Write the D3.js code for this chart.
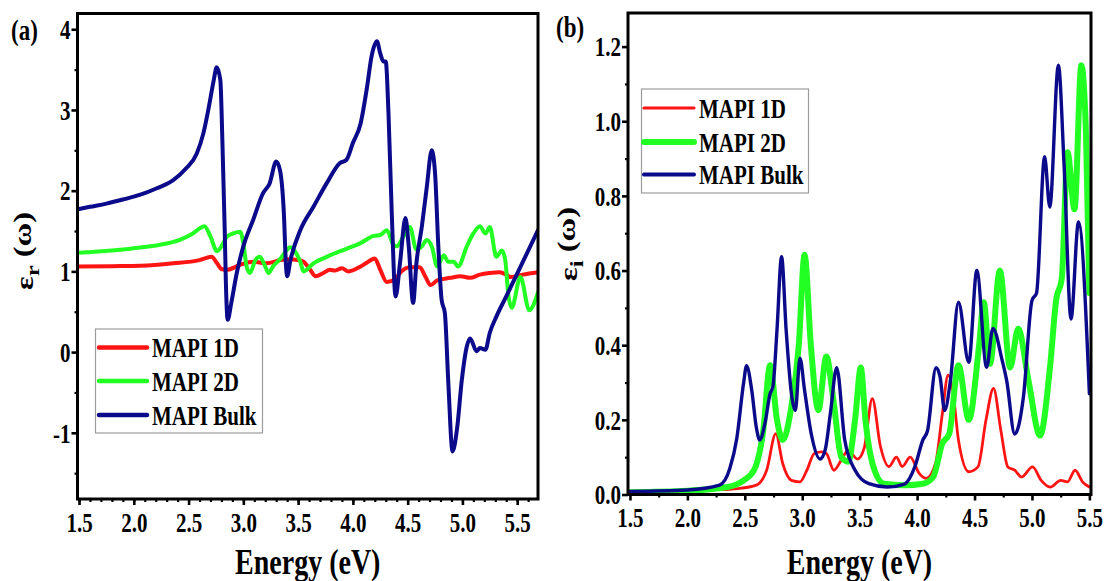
<!DOCTYPE html>
<html><head><meta charset="utf-8">
<script src="https://cdn.jsdelivr.net/npm/d3@7"></script>
<style>body{margin:0;background:#fff}svg{display:block}</style>
</head><body>
<svg id="c" width="1106" height="581"></svg>
<script>
// ---------------- DATA ----------------
const seriesNames = ["MAPI 1D", "MAPI 2D", "MAPI Bulk"];

// (a) real part  [energy eV, eps_r]
const real1D = [[1.49,1.06],[1.8,1.065],[2.06,1.07],[2.36,1.10],[2.60,1.14],[2.71,1.18],[2.76,1.10],[2.80,1.03],[2.85,1.02],[2.97,1.08],[3.09,1.12],[3.21,1.10],[3.34,1.14],[3.40,1.15],[3.50,1.14],[3.55,1.12],[3.61,1.02],[3.66,0.94],[3.73,0.98],[3.79,1.02],[3.84,1.01],[3.90,1.04],[3.96,1.00],[4.07,1.06],[4.14,1.12],[4.20,1.16],[4.25,1.02],[4.31,0.87],[4.385,0.90],[4.43,0.98],[4.52,1.05],[4.61,1.05],[4.66,0.94],[4.71,0.83],[4.77,0.89],[4.89,0.92],[4.98,0.94],[5.07,0.92],[5.16,0.96],[5.25,0.98],[5.34,0.99],[5.40,0.96],[5.44,0.93],[5.55,0.96],[5.69,0.99]];
const real2D = [[1.49,1.23],[1.8,1.26],[2.08,1.30],[2.24,1.33],[2.42,1.39],[2.54,1.47],[2.645,1.56],[2.70,1.43],[2.76,1.25],[2.80,1.31],[2.85,1.43],[2.91,1.47],[2.97,1.49],[3.00,1.35],[3.03,1.06],[3.06,0.98],[3.11,1.14],[3.15,1.18],[3.20,1.06],[3.23,0.98],[3.27,1.06],[3.34,1.16],[3.40,1.27],[3.43,1.30],[3.47,1.25],[3.52,1.12],[3.55,1.00],[3.64,1.10],[3.76,1.18],[3.94,1.28],[4.07,1.35],[4.19,1.44],[4.25,1.45],[4.31,1.51],[4.37,1.33],[4.40,1.31],[4.46,1.43],[4.52,1.55],[4.58,1.27],[4.63,1.31],[4.675,1.39],[4.72,1.31],[4.77,1.06],[4.83,1.20],[4.87,1.12],[4.92,1.12],[4.96,1.06],[5.04,1.31],[5.10,1.47],[5.16,1.56],[5.21,1.47],[5.25,1.55],[5.31,1.18],[5.36,1.26],[5.39,1.15],[5.42,0.70],[5.45,0.55],[5.53,0.93],[5.61,0.52],[5.69,0.74]];
const realBulk = [[1.49,1.77],[1.6,1.80],[1.75,1.84],[1.9,1.89],[2.06,1.95],[2.21,2.03],[2.36,2.13],[2.48,2.28],[2.575,2.46],[2.635,2.71],[2.68,3.00],[2.73,3.37],[2.757,3.53],[2.79,3.37],[2.81,2.55],[2.83,1.51],[2.84,0.89],[2.857,0.40],[2.89,0.61],[2.94,0.98],[3.0,1.31],[3.09,1.64],[3.18,1.97],[3.24,2.09],[3.30,2.36],[3.335,2.25],[3.37,1.72],[3.39,1.06],[3.40,0.94],[3.43,1.14],[3.52,1.51],[3.64,1.80],[3.76,2.09],[3.88,2.34],[3.94,2.38],[4.0,2.59],[4.07,2.83],[4.13,3.29],[4.17,3.66],[4.22,3.85],[4.25,3.70],[4.28,3.60],[4.30,3.60],[4.325,2.96],[4.355,1.72],[4.39,0.69],[4.43,1.10],[4.48,1.66],[4.51,1.31],[4.55,0.61],[4.58,1.10],[4.63,1.56],[4.675,2.05],[4.72,2.50],[4.75,2.22],[4.78,1.31],[4.81,0.65],[4.84,0.48],[4.87,-0.34],[4.91,-1.23],[4.95,-0.96],[4.995,-0.34],[5.04,0.07],[5.07,0.17],[5.13,0.01],[5.16,0.05],[5.21,0.03],[5.25,0.24],[5.31,0.44],[5.40,0.69],[5.57,1.17],[5.69,1.51]];

// (b) imaginary part  [energy eV, eps_i]
const imag1D = [[1.50,0.005],[1.9,0.008],[2.19,0.012],[2.44,0.016],[2.60,0.025],[2.69,0.065],[2.77,0.163],[2.83,0.083],[2.905,0.038],[2.98,0.034],[3.04,0.065],[3.105,0.11],[3.17,0.114],[3.21,0.11],[3.275,0.065],[3.34,0.092],[3.40,0.119],[3.48,0.095],[3.54,0.125],[3.61,0.257],[3.68,0.13],[3.755,0.075],[3.82,0.10],[3.87,0.075],[3.94,0.10],[4.02,0.056],[4.08,0.043],[4.16,0.083],[4.22,0.217],[4.27,0.32],[4.31,0.28],[4.36,0.146],[4.45,0.061],[4.53,0.074],[4.60,0.20],[4.665,0.284],[4.73,0.17],[4.79,0.074],[4.85,0.065],[4.91,0.047],[5.005,0.074],[5.08,0.038],[5.16,0.02],[5.25,0.038],[5.31,0.034],[5.375,0.065],[5.44,0.034],[5.50,0.02]];
const imag2D = [[1.50,0.006],[2.0,0.01],[2.35,0.02],[2.49,0.038],[2.58,0.065],[2.66,0.17],[2.72,0.346],[2.78,0.20],[2.83,0.146],[2.905,0.235],[2.97,0.40],[3.02,0.642],[3.075,0.40],[3.14,0.226],[3.21,0.37],[3.275,0.244],[3.34,0.10],[3.40,0.088],[3.46,0.20],[3.51,0.34],[3.55,0.20],[3.62,0.074],[3.71,0.029],[3.89,0.025],[4.05,0.029],[4.14,0.047],[4.22,0.137],[4.28,0.163],[4.36,0.346],[4.45,0.20],[4.54,0.40],[4.58,0.515],[4.635,0.35],[4.72,0.60],[4.81,0.34],[4.88,0.444],[4.97,0.305],[5.07,0.158],[5.16,0.35],[5.21,0.52],[5.26,0.58],[5.31,0.917],[5.37,0.764],[5.43,1.15],[5.47,0.97],[5.50,0.54]];
const imagBulk = [[1.50,0.008],[2.0,0.012],[2.28,0.025],[2.37,0.07],[2.43,0.15],[2.49,0.30],[2.515,0.345],[2.56,0.28],[2.60,0.18],[2.63,0.146],[2.675,0.19],[2.72,0.27],[2.745,0.29],[2.78,0.44],[2.82,0.637],[2.86,0.44],[2.91,0.26],[2.94,0.225],[2.98,0.365],[3.02,0.28],[3.08,0.16],[3.155,0.095],[3.20,0.12],[3.245,0.217],[3.30,0.34],[3.37,0.146],[3.46,0.065],[3.58,0.029],[3.74,0.02],[3.89,0.028],[3.98,0.074],[4.05,0.146],[4.09,0.17],[4.165,0.34],[4.20,0.315],[4.24,0.225],[4.29,0.305],[4.36,0.515],[4.45,0.354],[4.52,0.60],[4.605,0.341],[4.66,0.445],[4.74,0.36],[4.78,0.305],[4.85,0.162],[4.925,0.26],[5.00,0.52],[5.04,0.54],[5.11,0.905],[5.155,0.77],[5.23,1.15],[5.28,0.88],[5.34,0.47],[5.405,0.73],[5.50,0.27]];

// ticks
const xTicksA = [1.5,2.0,2.5,3.0,3.5,4.0,4.5,5.0,5.5];
const xLabelsA = ["1.5","2.0","2.5","3.0","3.5","4.0","4.5","5.0","5.5"];
const yTicksA = [-1,0,1,2,3,4];
const yLabelsA = ["-1","0","1","2","3","4"];
const xTicksB = [1.5,2.0,2.5,3.0,3.5,4.0,4.5,5.0,5.5];
const xLabelsB = ["1.5","2.0","2.5","3.0","3.5","4.0","4.5","5.0","5.5"];
const yTicksB = [0.0,0.2,0.4,0.6,0.8,1.0,1.2];
const yLabelsB = ["0.0","0.2","0.4","0.6","0.8","1.0","1.2"];

// ---------------- DRAW ----------------
const FONT = "'Liberation Serif','Times New Roman',serif";
const SY = 1.3; // vertical stretch of the original figure text
const colors = ["#ff1414", "#22ff22", "#0a0a8a"];
const svg = d3.select("#c");
svg.append("rect").attr("width",1106).attr("height",581).attr("fill","#fff");

function range(a,b,s){const r=[];for(let v=a;v<=b+1e-9;v+=s)r.push(+v.toFixed(3));return r;}

function panel(cfg){
  const x = d3.scaleLinear().domain(cfg.xDom).range([cfg.x0,cfg.x1]);
  const y = d3.scaleLinear().domain(cfg.yDom).range([cfg.y1,cfg.y0]);
  const g = svg.append("g");
  const cid = "clip"+cfg.id;
  g.append("clipPath").attr("id",cid).append("rect")
    .attr("x",cfg.x0).attr("y",cfg.y0).attr("width",cfg.x1-cfg.x0).attr("height",cfg.y1-cfg.y0);
  const line = d3.line().x(d=>x(d[0])).y(d=>y(d[1])).curve(d3.curveMonotoneX);
  const lg = g.append("g").attr("clip-path",`url(#${cid})`);
  cfg.series.forEach((s,i)=>{
    lg.append("path").datum(s).attr("d",line).attr("fill","none")
      .attr("stroke",colors[i]).attr("stroke-width",cfg.widths[i])
      .attr("stroke-linejoin","round").attr("stroke-linecap","round");
  });
  // re-draw in given order (bulk above others in (a))
  if(cfg.order){ cfg.order.forEach(i=>{ lg.selectAll("path").filter((d,j)=>j===i).raise(); }); }

  // minor ticks
  const mx = g.append("g").attr("transform",`translate(0,${cfg.y1})`)
    .call(d3.axisBottom(x).tickValues(cfg.xMinor).tickSize(3).tickFormat(""));
  const my = g.append("g").attr("transform",`translate(${cfg.x0},0)`)
    .call(d3.axisLeft(y).tickValues(cfg.yMinor).tickSize(3).tickFormat(""));
  [mx,my].forEach(a=>{a.select(".domain").remove();a.selectAll("line").attr("stroke","#000").attr("stroke-width",2.2);});

  // major ticks
  const ax = g.append("g").attr("transform",`translate(0,${cfg.y1})`)
    .call(d3.axisBottom(x).tickValues(cfg.xTicks).tickSize(6).tickFormat((d,i)=>cfg.xLabels[i]));
  const ay = g.append("g").attr("transform",`translate(${cfg.x0},0)`)
    .call(d3.axisLeft(y).tickValues(cfg.yTicks).tickSize(6).tickPadding(1).tickFormat((d,i)=>cfg.yLabels[i]));
  [ax,ay].forEach(a=>{
    a.select(".domain").remove();
    a.selectAll("line").attr("stroke","#000").attr("stroke-width",2.6);
    a.selectAll("text").attr("fill","#000").style("font-family",FONT).style("font-weight","bold").style("font-size","21px");
  });
  ax.selectAll("text").attr("y",cfg.xLabelBase/SY).attr("dy",null).attr("transform",`scale(1,${SY})`);
  ay.selectAll("text").attr("dy","0.34em").attr("transform",`scale(1,${SY})`);

  // frame
  g.append("rect").attr("x",cfg.x0).attr("y",cfg.y0).attr("width",cfg.x1-cfg.x0).attr("height",cfg.y1-cfg.y0)
    .attr("fill","none").attr("stroke","#000").attr("stroke-width",3);

  // axis titles
  g.append("text").attr("transform",`translate(${(cfg.x0+cfg.x1)/2},574) scale(1,1.25)`)
    .attr("text-anchor","middle").style("font-family",FONT).style("font-weight","bold").style("font-size","28px")
    .text("Energy (eV)");
  const yt = g.append("text").attr("transform",`translate(${cfg.ylx},${cfg.yly}) scale(1,${SY}) rotate(-90)`)
    .attr("text-anchor","middle").style("font-family",FONT).style("font-weight","bold").style("font-size","25px");
  yt.append("tspan").text("ε");
  yt.append("tspan").attr("dy","0.3em").style("font-size","19px").text(cfg.sub);
  yt.append("tspan").attr("dy","-0.3em").text(" (ω)");

  // panel label
  g.append("text").attr("transform",`translate(${cfg.plx},${cfg.ply}) scale(1,${SY})`)
    .style("font-family",FONT).style("font-weight","bold").style("font-size","23px").text(cfg.tag);

  // legend
  const L = cfg.legend;
  const leg = g.append("g");
  leg.append("rect").attr("x",L.x).attr("y",L.y).attr("width",L.w).attr("height",L.h)
    .attr("fill","#fff").attr("stroke","#9c9c9c").attr("stroke-width",1.2);
  seriesNames.forEach((n,i)=>{
    const yy = L.rows[i];
    leg.append("line").attr("x1",L.lx0).attr("x2",L.lx1).attr("y1",yy).attr("y2",yy)
      .attr("stroke",colors[i]).attr("stroke-width",L.lw[i]).attr("stroke-linecap","round");
    leg.append("text").attr("transform",`translate(${L.tx},${yy}) scale(1,${SY})`).attr("dy","0.35em")
      .style("font-family",FONT).style("font-weight","bold").style("font-size","21px").text(n);
  });
}

panel({
  id:"A", x0:77.5, x1:538, y0:13.5, y1:499, xDom:[1.486,5.69], yDom:[-1.82,4.195],
  series:[real1D, real2D, realBulk], widths:[4,4,4],
  xTicks:xTicksA, xLabels:xLabelsA, yTicks:yTicksA, yLabels:yLabelsA,
  xMinor:range(1.5,5.6,0.1), yMinor:[-1.5,-0.5,0.5,1.5,2.5,3.5],
  xLabelBase:33, ylx:33, yly:251, sub:"r", tag:"(a)", plx:11, ply:40,
  legend:{x:95.5,y:329,w:167,h:104,rows:[347.5,381,415],lx0:99,lx1:147,tx:152,lw:[4.5,4.5,4.5]}
});
panel({
  id:"B", x0:628, x1:1091, y0:13, y1:494.5, xDom:[1.483,5.514], yDom:[0,1.29],
  series:[imag1D, imag2D, imagBulk], widths:[2.8,6,3.4],
  xTicks:xTicksB, xLabels:xLabelsB, yTicks:yTicksB, yLabels:yLabelsB,
  xMinor:range(1.75,5.25,0.5), yMinor:range(0.1,1.2,0.2),
  xLabelBase:33, ylx:577, yly:244, sub:"i", tag:"(b)", plx:556, ply:37,
  legend:{x:641.5,y:89,w:167,h:104,rows:[108,142,174.5],lx0:644,lx1:694,tx:699,lw:[3.2,6,4]}
});
</script>
</body></html>
